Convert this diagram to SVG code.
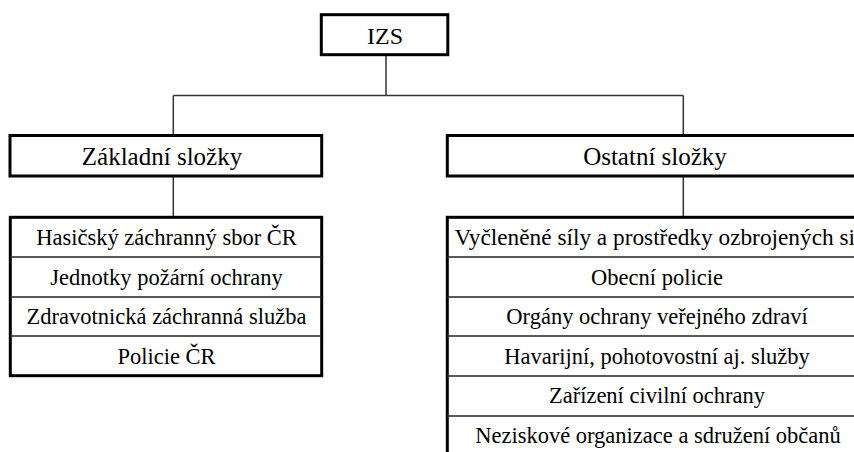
<svg xmlns="http://www.w3.org/2000/svg" width="854" height="452" viewBox="0 0 854 452">
<style>
.box{fill:#fff;stroke:#000;stroke-width:3}
.div{stroke:#222;stroke-width:1.5;fill:none}
.con{stroke:#333;stroke-width:1.5;fill:none}
text{font-family:"Liberation Serif","Times New Roman",serif;fill:#000;text-anchor:middle}
.h{font-size:25px}
.t{font-size:22.5px}
</style>
<rect width="854" height="452" fill="#fff"/>
<g id="connectors">
<line class="con" x1="386" y1="56" x2="386" y2="95.5"/>
<line class="con" x1="173.3" y1="95.5" x2="683.3" y2="95.5"/>
<line class="con" x1="173.3" y1="95.5" x2="173.3" y2="134"/>
<line class="con" x1="683.3" y1="95.5" x2="683.3" y2="134"/>
<line class="con" x1="173.3" y1="177" x2="173.3" y2="216"/>
<line class="con" x1="683.3" y1="177" x2="683.3" y2="216"/>
</g>
<g id="izs">
<rect class="box" x="321.3" y="14.7" width="126.5" height="40"/>
<text x="385" y="44" style="font-size:24px">IZS</text>
</g>
<g id="zakladni">
<rect class="box" x="10" y="135.5" width="311.7" height="40.5"/>
<text class="h" x="162" y="165">Základní složky</text>
</g>
<g id="ostatni">
<rect class="box" x="447.3" y="135.5" width="430" height="40.5"/>
<text class="h" x="655" y="165">Ostatní složky</text>
</g>
<g id="zakladni-list">
<rect class="box" x="10.3" y="217.3" width="311.4" height="158.4"/>
<line class="div" x1="10" y1="257" x2="322" y2="257"/>
<line class="div" x1="10" y1="297" x2="322" y2="297"/>
<line class="div" x1="10" y1="336" x2="322" y2="336"/>
<text class="t" x="166.5" y="245">Hasičský záchranný sbor ČR</text>
<text class="t" x="166.5" y="285">Jednotky požární ochrany</text>
<text class="t" x="166.5" y="324">Zdravotnická záchranná služba</text>
<text class="t" x="166.5" y="364">Policie ČR</text>
</g>
<g id="ostatni-list">
<rect class="box" x="447.3" y="217.3" width="430" height="260"/>
<line class="div" x1="447" y1="257" x2="880" y2="257"/>
<line class="div" x1="447" y1="297" x2="880" y2="297"/>
<line class="div" x1="447" y1="336" x2="880" y2="336"/>
<line class="div" x1="447" y1="376" x2="880" y2="376"/>
<line class="div" x1="447" y1="416" x2="880" y2="416"/>
<text x="658" y="245" style="font-size:23.3px">Vyčleněné síly a prostředky ozbrojených sil</text>
<text class="t" x="657" y="285">Obecní policie</text>
<text class="t" x="657" y="324">Orgány ochrany veřejného zdraví</text>
<text class="t" x="657" y="364">Havarijní, pohotovostní aj. služby</text>
<text class="t" x="657" y="403">Zařízení civilní ochrany</text>
<text class="t" x="658" y="443">Neziskové organizace a sdružení občanů</text>
</g>
</svg>
